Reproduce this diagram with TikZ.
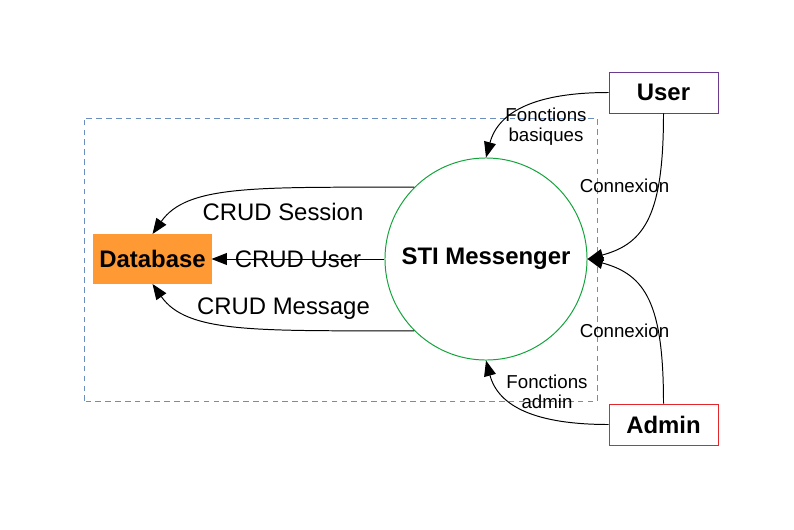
\documentclass[tikz,border=0pt]{standalone}
\usepackage{fontspec}
\setmainfont{Liberation Sans}
\usetikzlibrary{arrows.meta}
\definecolor{dbfill}{HTML}{FF9933}
\definecolor{msggreen}{HTML}{12A33A}
\definecolor{userpurple}{HTML}{6C3A8E}
\definecolor{adminred}{HTML}{E3262A}
\definecolor{framegray}{HTML}{6C8EBF}

\begin{document}
\begin{tikzpicture}[x=0.025cm, y=0.025cm, line width=0.7pt, >={Triangle[length=11pt,width=8.5pt]},
	main node/.style={circle, draw=msggreen, minimum size=5.05cm, font=\bfseries\fontsize{17}{20}\selectfont},
	box node/.style={rectangle, draw, minimum width=2.725cm, minimum height=1.025cm, font=\bfseries\fontsize{17}{20}\selectfont},
	big label/.style={font=\fontsize{17}{20}\selectfont, inner sep=0pt},
	small label/.style={font=\fontsize{13.3}{14.2}\selectfont, align=center, inner sep=0pt}]
	\useasboundingbox (0,0) rectangle (794,529);

	% system boundary
	\draw[framegray, dash pattern=on 4pt off 3pt] (84,128) rectangle (597,411);

	\node[main node] (msg) at (486,270) {STI Messenger};
	\node[box node, fill=dbfill, draw=dbfill, minimum width=2.925cm, minimum height=1.225cm] (db) at (152.5,270) {Database};
	\node[box node, draw=userpurple] (user) at (663.5,436.5) {User};
	\node[box node, draw=adminred] (admin) at (663.5,104.5) {Admin};

	\node[big label] (session) at (283,317) {CRUD Session};
	\node[big label] (cuser) at (298,270) {CRUD User};
	\node[big label] (message) at (283.5,220) {CRUD Message};
	\node[small label] (basic) at (546,402) {Fonctions\\basiques};
	\node[small label] (conuser) at (624.5,343) {Connexion};
	\node[small label] (conadmin) at (624.5,198) {Connexion};
	\node[small label] (fadmin) at (547,137) {Fonctions\\admin};

	\path[->]
		(msg.135) edge[out=180, in=55, out distance=4cm, in distance=1.5cm] (db.north)
		(msg.west) edge (db.east)
		(msg.225) edge[out=180, in=-55, out distance=4cm, in distance=1.5cm] (db.south)
		(user.west) edge[out=180, in=75, out distance=1.8cm, in distance=1.2cm] (msg.north)
		(user.south) edge[out=-90, in=15, out distance=2.5cm, in distance=1.5cm] (msg.east)
		(admin.north) edge[out=90, in=-15, out distance=2.5cm, in distance=1.5cm] (msg.east)
		(admin.west) edge[out=180, in=-75, out distance=1.8cm, in distance=1.2cm] (msg.south);
\end{tikzpicture}
\end{document}
